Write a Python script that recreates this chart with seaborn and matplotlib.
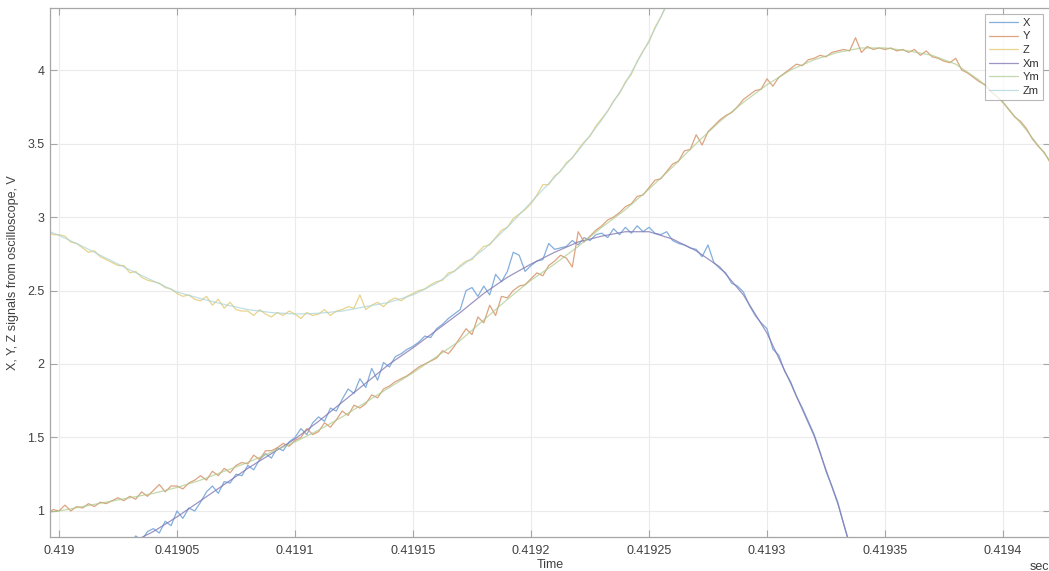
import numpy as np
import pandas as pd
import seaborn as sns
import matplotlib.pyplot as plt
from matplotlib.ticker import FixedLocator, FuncFormatter

# smooth (model) curves, one node every 10 us
xm_t0, ym_t0, zm_t0 = 0.41903, 0.41899, 0.41899
xm_vals = [0.78, 0.86, 0.96, 1.07, 1.18, 1.29, 1.39, 1.49, 1.61, 1.74, 1.87, 2.00,
           2.11, 2.23, 2.35, 2.48, 2.59, 2.68, 2.76, 2.83, 2.87, 2.90, 2.90, 2.85,
           2.77, 2.66, 2.47, 2.21, 1.87, 1.51, 1.05, 0.50]
ym_vals = [0.98, 1.00, 1.03, 1.06, 1.09, 1.12, 1.16, 1.21, 1.27, 1.33, 1.40, 1.47,
           1.55, 1.64, 1.74, 1.84, 1.94, 2.05, 2.16, 2.30, 2.44, 2.57, 2.68, 2.80,
           2.93, 3.05, 3.19, 3.34, 3.50, 3.65, 3.78, 3.90, 4.00, 4.07, 4.12, 4.15,
           4.15, 4.13, 4.10, 4.04, 3.93, 3.78, 3.59, 3.38, 3.15]
zm_vals = [2.94, 2.875, 2.80, 2.72, 2.64, 2.565, 2.49, 2.445, 2.405, 2.37, 2.35, 2.34,
           2.345, 2.36, 2.39, 2.42, 2.47, 2.55, 2.66, 2.78, 2.93, 3.10, 3.27, 3.45,
           3.66, 3.91, 4.20, 4.52]

# oscilloscope samples, one every 2.5 us
x_vals = [0.77, 0.83, 0.80, 0.86, 0.88, 0.85, 0.93, 0.90, 1.00, 0.95, 1.02, 1.00,
          1.06, 1.13, 1.17, 1.12, 1.20, 1.19, 1.25, 1.24, 1.31, 1.28, 1.35, 1.39,
          1.36, 1.43, 1.41, 1.47, 1.50, 1.56, 1.52, 1.60, 1.64, 1.61, 1.70, 1.68,
          1.76, 1.83, 1.80, 1.90, 1.84, 1.97, 1.89, 2.01, 1.98, 2.05, 2.07, 2.10,
          2.12, 2.15, 2.19, 2.18, 2.24, 2.27, 2.31, 2.34, 2.37, 2.50, 2.52, 2.46,
          2.53, 2.47, 2.61, 2.56, 2.63, 2.76, 2.74, 2.63, 2.67, 2.70, 2.71, 2.82,
          2.78, 2.79, 2.80, 2.84, 2.81, 2.86, 2.84, 2.88, 2.89, 2.86, 2.92, 2.88,
          2.93, 2.89, 2.94, 2.90, 2.93, 2.89, 2.88, 2.90, 2.84, 2.82, 2.81, 2.79,
          2.78, 2.73, 2.81, 2.69, 2.65, 2.62, 2.55, 2.53, 2.49, 2.40, 2.33, 2.28,
          2.24, 2.10, 2.06, 1.95, 1.88, 1.78, 1.70, 1.61, 1.52, 1.40, 1.27, 1.17,
          1.06, 0.91, 0.77, 0.63, 0.50]
y_vals = [0.97, 1.00, 0.98, 1.01, 1.00, 1.04, 1.00, 1.03, 1.02, 1.05, 1.03, 1.06,
          1.05, 1.07, 1.09, 1.07, 1.10, 1.08, 1.13, 1.10, 1.14, 1.18, 1.13, 1.17,
          1.17, 1.15, 1.19, 1.21, 1.24, 1.21, 1.27, 1.24, 1.29, 1.26, 1.31, 1.33,
          1.32, 1.38, 1.35, 1.41, 1.41, 1.43, 1.46, 1.44, 1.48, 1.50, 1.56, 1.52,
          1.54, 1.60, 1.57, 1.62, 1.68, 1.65, 1.72, 1.70, 1.73, 1.79, 1.77, 1.83,
          1.85, 1.88, 1.90, 1.92, 1.95, 1.98, 2.00, 2.02, 2.04, 2.09, 2.07, 2.12,
          2.18, 2.24, 2.20, 2.32, 2.28, 2.40, 2.33, 2.46, 2.45, 2.50, 2.53, 2.54,
          2.58, 2.62, 2.60, 2.67, 2.70, 2.74, 2.72, 2.66, 2.90, 2.83, 2.87, 2.91,
          2.94, 2.98, 3.00, 3.03, 3.07, 3.09, 3.14, 3.15, 3.20, 3.25, 3.26, 3.31,
          3.36, 3.38, 3.45, 3.46, 3.56, 3.49, 3.58, 3.62, 3.66, 3.69, 3.71, 3.75,
          3.80, 3.83, 3.86, 3.87, 3.94, 3.89, 3.95, 3.98, 4.01, 4.04, 4.03, 4.07,
          4.08, 4.10, 4.09, 4.12, 4.13, 4.14, 4.13, 4.22, 4.12, 4.16, 4.14, 4.15,
          4.14, 4.15, 4.13, 4.14, 4.12, 4.14, 4.10, 4.13, 4.09, 4.08, 4.06, 4.05,
          4.08, 4.00, 3.98, 3.95, 3.92, 3.90, 3.85, 3.82, 3.78, 3.73, 3.68, 3.65,
          3.60, 3.53, 3.48, 3.44, 3.37, 3.33, 3.26, 3.21, 3.15]
z_vals = [2.95, 2.92, 2.90, 2.88, 2.88, 2.87, 2.83, 2.82, 2.79, 2.76, 2.77, 2.73,
          2.71, 2.69, 2.67, 2.67, 2.62, 2.63, 2.59, 2.57, 2.56, 2.55, 2.52, 2.51,
          2.48, 2.46, 2.47, 2.44, 2.43, 2.46, 2.40, 2.44, 2.38, 2.42, 2.37, 2.36,
          2.36, 2.33, 2.37, 2.34, 2.32, 2.35, 2.33, 2.36, 2.34, 2.31, 2.35, 2.33,
          2.34, 2.37, 2.33, 2.36, 2.37, 2.39, 2.38, 2.47, 2.37, 2.40, 2.42, 2.39,
          2.43, 2.45, 2.43, 2.46, 2.48, 2.50, 2.51, 2.54, 2.56, 2.57, 2.62, 2.63,
          2.67, 2.70, 2.71, 2.76, 2.80, 2.81, 2.86, 2.91, 2.93, 2.99, 3.02, 3.05,
          3.09, 3.15, 3.22, 3.22, 3.28, 3.31, 3.37, 3.40, 3.46, 3.51, 3.55, 3.62,
          3.67, 3.72, 3.79, 3.84, 3.92, 3.97, 4.06, 4.13, 4.19, 4.29, 4.36, 4.45,
          4.52]

x_t0, y_t0, z_t0 = 0.41903, 0.41899, 0.41899
dt_fast, dt_slow = 2.5e-6, 1e-5


def sample_times(t0, n, dt):
    return t0 + dt * np.arange(n)


series = [
    ('X', sample_times(x_t0, len(x_vals), dt_fast), x_vals, '#76a6d8', 0.9),
    ('Y', sample_times(y_t0, len(y_vals), dt_fast), y_vals, '#d99a72', 0.9),
    ('Z', sample_times(z_t0, len(z_vals), dt_fast), z_vals, '#e6cf80', 0.9),
    ('Xm', sample_times(xm_t0, len(xm_vals), dt_slow), xm_vals, '#8479b4', 0.8),
    ('Ym', sample_times(ym_t0, len(ym_vals), dt_slow), ym_vals, '#a9c98a', 0.7),
    ('Zm', sample_times(zm_t0, len(zm_vals), dt_slow), zm_vals, '#a6d2d8', 0.7),
]

x_ticks = [0.419, 0.41905, 0.4191, 0.41915, 0.4192, 0.41925, 0.4193, 0.41935, 0.4194]
y_ticks = [1, 1.5, 2, 2.5, 3, 3.5, 4]

sns.set_theme(style='white')
plt.rcParams['font.family'] = ['Liberation Sans', 'DejaVu Sans']

fig = plt.figure(figsize=(10.49, 5.71), dpi=100)
ax = fig.add_axes([50 / 1049, 34 / 571, 1000 / 1049, 529 / 571])

for name, t, v, c, a in series:
    df = pd.DataFrame({'t': t, 'v': v})
    sns.lineplot(data=df, x='t', y='v', ax=ax, color=c, linewidth=0.9,
                 alpha=a, label=name)

ax.set_xlim(0.41899619, 0.41941992)
ax.set_ylim(0.823, 4.422)
ax.xaxis.set_major_locator(FixedLocator(x_ticks))
ax.yaxis.set_major_locator(FixedLocator(y_ticks))
ax.xaxis.set_major_formatter(FuncFormatter(lambda v, p: f'{v:.5f}'.rstrip('0')))
ax.yaxis.set_major_formatter(FuncFormatter(lambda v, p: f'{v:g}'))

ax.grid(True, color='#ebebeb', linewidth=0.8)
for s in ax.spines.values():
    s.set_color('#a6a6a6')
    s.set_linewidth(0.9)
ax.tick_params(direction='in', length=5, width=0.8, color='#a6a6a6',
               labelsize=9, labelcolor='#404040', top=True, right=True,
               bottom=True, left=True)
ax.tick_params(axis='x', pad=6)
ax.tick_params(axis='y', pad=4)

ax.set_xlabel('Time', fontsize=9, color='#404040', labelpad=1)
ax.set_ylabel('X, Y, Z signals from oscilloscope, V', fontsize=9,
              color='#404040', labelpad=6)
fig.text(1030 / 1049, 1 - 567 / 571, 'sec', fontsize=9, color='#404040',
         ha='left', va='center')

leg = ax.legend(loc='upper right', bbox_to_anchor=(1043 / 1049, 1 - 14 / 571),
                bbox_transform=fig.transFigure, fontsize=8, frameon=True,
                fancybox=False, handlelength=2.6, handletextpad=0.4,
                borderpad=0.35, labelspacing=0.32, borderaxespad=0)
leg.get_frame().set_edgecolor('#a6a6a6')
leg.get_frame().set_linewidth(0.8)
for txt in leg.get_texts():
    txt.set_color('#303030')

fig.savefig('out.png', dpi=100)
